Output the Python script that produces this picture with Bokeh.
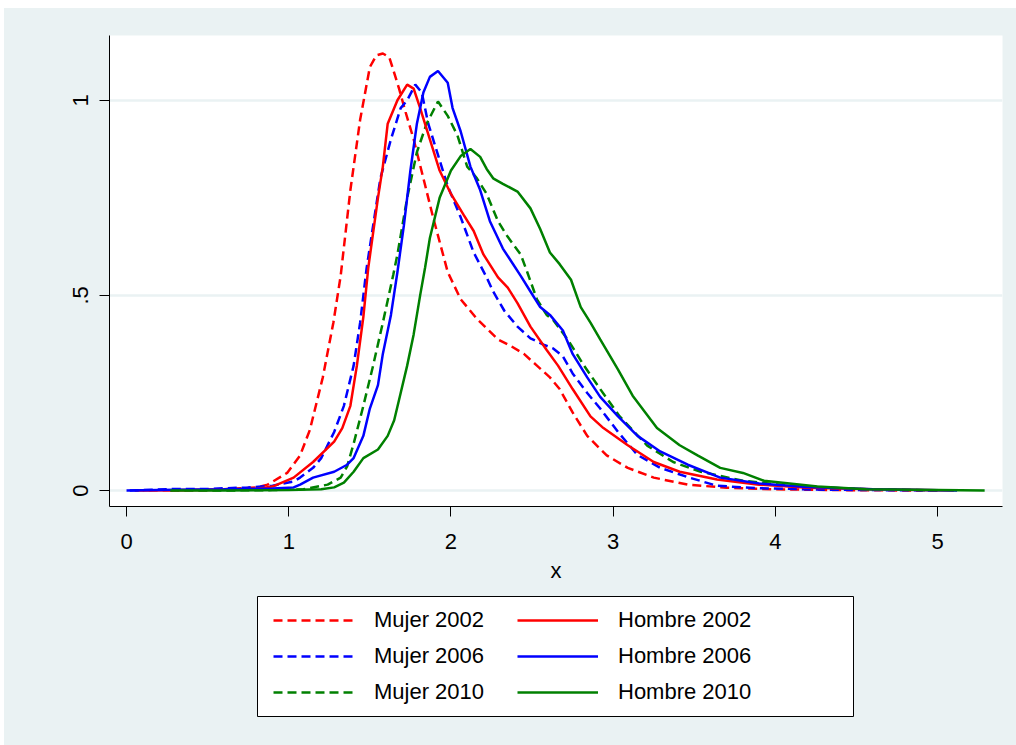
from bokeh.plotting import figure
from bokeh.models import Range1d, FixedTicker, Legend, LegendItem
from bokeh.layouts import column
from bokeh.embed import file_html
from bokeh.resources import INLINE

# ---- data ----
m2002_x = [0.05, 0.3, 0.6, 0.8, 0.87, 0.99, 1.07, 1.13, 1.21, 1.275, 1.32, 1.38, 1.44, 1.50, 1.54, 1.58, 1.62, 1.645, 1.68,
           1.72, 1.77, 1.83, 1.89, 1.98, 2.06, 2.16, 2.29, 2.37, 2.45, 2.53, 2.61, 2.67, 2.75, 2.84, 2.96, 3.09, 3.25,
           3.46, 3.7, 4.0, 4.4, 4.9]
m2002_y = [0.0, 0.001, 0.003, 0.008, 0.015, 0.045, 0.09, 0.155, 0.29, 0.43, 0.55, 0.77, 0.95, 1.085, 1.115, 1.12, 1.11,
           1.077, 1.03, 0.97, 0.90, 0.80, 0.70, 0.56, 0.49, 0.44, 0.387, 0.37, 0.35, 0.32, 0.29, 0.26, 0.20, 0.14, 0.09,
           0.058, 0.033, 0.015, 0.007, 0.003, 0.001, 0.0]

h2002_x = [0.1, 0.5, 0.8, 0.9, 1.03, 1.15, 1.28, 1.33, 1.38, 1.42, 1.46, 1.49, 1.55, 1.58, 1.61, 1.67, 1.73, 1.77, 1.81,
           1.87, 1.93, 2.0, 2.08, 2.14, 2.20, 2.29, 2.35, 2.41, 2.49, 2.59, 2.66, 2.75, 2.86, 2.94, 3.09, 3.25, 3.41,
           3.64, 3.9, 4.2, 4.6, 5.1]
h2002_y = [0.0, 0.001, 0.004, 0.01, 0.033, 0.073, 0.125, 0.16, 0.217, 0.32, 0.445, 0.57, 0.75, 0.83, 0.94, 1.0, 1.04,
           1.03, 0.98, 0.90, 0.82, 0.76, 0.705, 0.665, 0.605, 0.546, 0.52, 0.48, 0.42, 0.36, 0.32, 0.26, 0.19, 0.16,
           0.116, 0.073, 0.048, 0.028, 0.015, 0.007, 0.003, 0.0]

m2006_x = [0.02, 0.3, 0.5, 0.75, 0.9, 1.03, 1.07, 1.15, 1.2, 1.28, 1.34, 1.40, 1.44, 1.48, 1.565, 1.63, 1.69, 1.73,
           1.78, 1.82, 1.86, 1.92, 1.98, 2.06, 2.14, 2.22, 2.26, 2.33, 2.41, 2.49, 2.57, 2.63, 2.69, 2.75, 2.84, 2.92,
           3.03, 3.15, 3.29, 3.47, 3.64, 3.9, 4.3, 5.0]
m2006_y = [0.0, 0.004, 0.004, 0.008, 0.012, 0.023, 0.033, 0.058, 0.083, 0.15, 0.217, 0.32, 0.43, 0.57, 0.80, 0.90, 0.98,
           1.0, 1.04, 1.02, 0.94, 0.86, 0.78, 0.70, 0.61, 0.546, 0.51, 0.46, 0.42, 0.39, 0.374, 0.364, 0.344, 0.30,
           0.25, 0.21, 0.15, 0.091, 0.058, 0.033, 0.012, 0.006, 0.002, 0.0]

h2006_x = [0.0, 0.3, 0.6, 0.9, 1.03, 1.07, 1.15, 1.28, 1.36, 1.40, 1.46, 1.50, 1.55, 1.58, 1.63, 1.67, 1.71, 1.75, 1.79,
           1.83, 1.87, 1.92, 1.98, 2.01, 2.06, 2.12, 2.18, 2.24, 2.32, 2.43, 2.49, 2.55, 2.61, 2.69, 2.75, 2.84, 2.92,
           3.03, 3.15, 3.29, 3.46, 3.66, 3.9, 4.2, 4.6, 5.12]
h2006_y = [0.0, 0.002, 0.003, 0.005, 0.008, 0.015, 0.033, 0.048, 0.066, 0.083, 0.14, 0.21, 0.27, 0.35, 0.45, 0.56, 0.68,
           0.82, 0.94, 1.02, 1.06, 1.075, 1.045, 0.98, 0.92, 0.83, 0.77, 0.69, 0.62, 0.55, 0.51, 0.47, 0.45, 0.41, 0.35,
           0.29, 0.24, 0.19, 0.14, 0.10, 0.066, 0.033, 0.018, 0.009, 0.003, 0.0]

m2010_x = [0.27, 0.6, 0.9, 1.09, 1.24, 1.32, 1.36, 1.40, 1.46, 1.52, 1.58, 1.645, 1.67, 1.73, 1.79, 1.85, 1.92, 1.98,
           2.04, 2.10, 2.16, 2.22, 2.29, 2.35, 2.43, 2.47, 2.53, 2.59, 2.63, 2.72, 2.82, 2.92, 3.04, 3.21, 3.37, 3.54,
           3.8, 4.1, 4.5, 5.0]
m2010_y = [0.0, 0.0, 0.001, 0.003, 0.015, 0.033, 0.062, 0.12, 0.217, 0.32, 0.43, 0.554, 0.605, 0.75, 0.867, 0.94, 0.997,
           0.96, 0.91, 0.83, 0.80, 0.76, 0.69, 0.65, 0.605, 0.56, 0.49, 0.45, 0.437, 0.387, 0.32, 0.26, 0.19, 0.115,
           0.073, 0.048, 0.025, 0.012, 0.004, 0.0]

h2010_x = [0.27, 0.6, 1.0, 1.2, 1.28, 1.34, 1.40, 1.46, 1.55, 1.61, 1.65, 1.69, 1.73, 1.77, 1.81, 1.84, 1.87, 1.93, 2.0,
           2.06, 2.12, 2.18, 2.22, 2.26, 2.32, 2.41, 2.49, 2.55, 2.61, 2.67, 2.74, 2.80, 2.86, 2.92, 3.03, 3.12, 3.27,
           3.41, 3.52, 3.66, 3.80, 3.93, 4.26, 4.56, 5.29]
h2010_y = [0.0, 0.0, 0.001, 0.003, 0.008, 0.02, 0.048, 0.083, 0.105, 0.14, 0.18, 0.25, 0.32, 0.40, 0.50, 0.57, 0.647,
           0.75, 0.82, 0.857, 0.875, 0.855, 0.824, 0.80, 0.786, 0.766, 0.723, 0.67, 0.61, 0.58, 0.54, 0.47, 0.43, 0.387,
           0.31, 0.243, 0.16, 0.116, 0.09, 0.058, 0.045, 0.025, 0.01, 0.003, 0.0]

x_ticks = [0, 1, 2, 3, 4, 5]
y_ticks = [0, 0.5, 1]
y_tick_labels = {0: "0", 0.5: ".5", 1: "1"}
x_label = "x"

series = [
    ("Mujer 2002", m2002_x, m2002_y, "#FF0000", "dashed"),
    ("Mujer 2006", m2006_x, m2006_y, "#0000FF", "dashed"),
    ("Mujer 2010", m2010_x, m2010_y, "#008000", "dashed"),
    ("Hombre 2002", h2002_x, h2002_y, "#FF0000", "solid"),
    ("Hombre 2006", h2006_x, h2006_y, "#0000FF", "solid"),
    ("Hombre 2010", h2010_x, h2010_y, "#008000", "solid"),
]

BG = "#EAF2F3"
FONT = "Liberation Sans"
DASH = "9 5"
LW = 2.5

# ---- main plot ----
p = figure(width=1012, height=577, output_backend="svg", toolbar_location=None,
           x_range=Range1d(-0.105, 5.4), y_range=Range1d(-0.041, 1.166),
           min_border_left=105, min_border_right=14, min_border_top=27, min_border_bottom=73)
p.frame_align = False
p.background_fill_color = "white"
p.border_fill_color = BG
p.outline_line_color = None

for name, xs, ys, col, kind in series:
    p.line(xs, ys, line_color=col, line_width=LW, line_dash=(DASH if kind == "dashed" else "solid"))

p.xaxis.ticker = FixedTicker(ticks=x_ticks)
p.yaxis.ticker = FixedTicker(ticks=y_ticks)
p.yaxis.major_label_overrides = y_tick_labels
p.yaxis.major_label_orientation = "vertical"
for ax in (p.xaxis, p.yaxis):
    ax.axis_line_color = "black"
    ax.axis_line_width = 1
    ax.major_tick_line_color = "black"
    ax.major_tick_out = 10
    ax.major_tick_in = 0
    ax.minor_tick_line_color = None
    ax.major_label_text_font = FONT
    ax.major_label_text_font_size = "22px"
    ax.major_label_text_color = "black"
p.xaxis.major_label_standoff = 17
p.yaxis.major_label_standoff = 11
p.xaxis.axis_label = x_label
p.xaxis.axis_label_text_font = FONT
p.xaxis.axis_label_text_font_size = "22px"
p.xaxis.axis_label_text_font_style = "normal"
p.xaxis.axis_label_text_color = "black"
p.xaxis.axis_label_standoff = 6
p.xgrid.grid_line_color = None
p.ygrid.ticker = FixedTicker(ticks=y_ticks)
p.ygrid.grid_line_color = BG
p.ygrid.grid_line_width = 2.5

# ---- legend panel: its frame is the legend box; the series are drawn off-range there ----
p2 = figure(width=1012, height=160, output_backend="svg", toolbar_location=None,
            x_range=Range1d(10, 11), y_range=Range1d(10, 11), x_axis_type=None, y_axis_type=None,
            min_border_left=253, min_border_right=163, min_border_top=11, min_border_bottom=29)
p2.frame_align = False
p2.background_fill_color = "white"
p2.border_fill_color = BG
p2.outline_line_color = "black"
p2.outline_line_width = 1

items = []
for name, xs, ys, col, kind in series:
    r = p2.line(xs, ys, line_color=col, line_width=LW, line_dash=(DASH if kind == "dashed" else "solid"))
    items.append(LegendItem(label=name, renderers=[r]))

legend = Legend(items=items, ncols=2, location=(16, 11),
                glyph_width=81, glyph_height=26, label_height=26, label_width=133,
                label_standoff=20, spacing=10, padding=0, margin=0,
                border_line_color=None, background_fill_alpha=0,
                label_text_font=FONT, label_text_font_size="22px", label_text_color="black")
p2.add_layout(legend)

layout = column(p, p2, spacing=0, margin=(8, 0, 0, 4), styles={"background-color": BG})
open("out.html", "w").write(file_html(layout, INLINE))
